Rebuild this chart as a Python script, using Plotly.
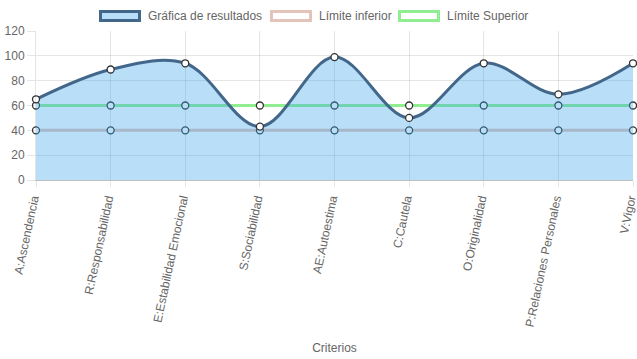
import plotly.graph_objects as go

categorias = ["A:Ascendencia", "R:Responsabilidad", "E:Estabilidad Emocional",
              "S:Sociabilidad", "AE:Autoestima", "C:Cautela", "O:Originalidad",
              "P:Relaciones Personales", "V:Vigor"]
resultados = [65, 89, 94, 43, 99, 50, 94, 69, 94]
limite_inferior = [40, 40, 40, 40, 40, 40, 40, 40, 40]
limite_superior = [60, 60, 60, 60, 60, 60, 60, 60, 60]
y_ticks = [0, 20, 40, 60, 80, 100, 120]

FONT = "Arial, 'Liberation Sans', Helvetica, sans-serif"
C_RES_LINE = "#42678a"
C_RES_FILL = "rgba(54,162,235,0.35)"
C_INF = "rgb(228,196,184)"
C_SUP = "rgb(144,238,144)"

marker = dict(size=7, color="white", line=dict(color="#333", width=1.3))

W, H = 637, 359
L, R, T, B = 36, 4, 31, 179
PW, PH = W - L - R, H - T - B

fig = go.Figure()
fig.add_trace(go.Scatter(
    x=categorias, y=limite_superior, name="Límite Superior", mode="lines+markers",
    line=dict(color=C_SUP, width=3), marker=marker, cliponaxis=False))
fig.add_trace(go.Scatter(
    x=categorias, y=limite_inferior, name="Límite inferior", mode="lines+markers",
    line=dict(color=C_INF, width=3), marker=marker, cliponaxis=False))
fig.add_trace(go.Scatter(
    x=categorias, y=resultados, name="Gráfica de resultados", mode="lines+markers",
    line=dict(color=C_RES_LINE, width=3, shape="spline", smoothing=1.0),
    fill="tozeroy", fillcolor=C_RES_FILL,
    marker=marker, cliponaxis=False))

# Chart.js-style legend (boxes + labels) placed above the plot
def px(fx):
    return (fx - L) / PW

def py(fy):
    return 1 - (fy - T) / PH

legend_items = [
    ("Gráfica de resultados", C_RES_FILL, C_RES_LINE, 99),
    ("Límite inferior", "white", C_INF, 270),
    ("Límite Superior", "white", C_SUP, 398),
]
for label, fillc, linec, x0 in legend_items:
    fig.add_shape(type="rect", xref="paper", yref="paper",
                  x0=px(x0 + 1.5), x1=px(x0 + 40.5), y0=py(11.5), y1=py(20.5),
                  fillcolor=fillc, line=dict(color=linec, width=3), layer="above")
    fig.add_annotation(text=label, xref="paper", yref="paper",
                       x=px(x0 + 47), y=py(16), xanchor="left", yanchor="middle",
                       showarrow=False, font=dict(size=12, color="#666", family=FONT))

fig.update_layout(
    width=W, height=H,
    margin=dict(l=L, r=R, t=T, b=B, autoexpand=False),
    paper_bgcolor="white", plot_bgcolor="white",
    font=dict(family=FONT, size=12, color="#666"),
    showlegend=False,
    xaxis=dict(
        type="category", range=[0, len(categorias) - 1], automargin=False,
        showgrid=True, gridcolor="rgba(0,0,0,0.1)", gridwidth=1,
        tickangle=-78, ticks="outside", ticklen=6, tickcolor="rgba(0,0,0,0.1)",
        ticklabelshift=-3,
        showline=True, linecolor="rgba(0,0,0,0.25)", linewidth=1,
        tickfont=dict(size=12, color="#666"),
        title=dict(text="Criterios", font=dict(size=12, color="#666"), standoff=16),
    ),
    yaxis=dict(
        range=[0, 120], tickvals=y_ticks, automargin=False,
        showgrid=True, gridcolor="rgba(0,0,0,0.1)", gridwidth=1,
        zeroline=False, ticks="outside", ticklen=8, tickcolor="rgba(0,0,0,0.1)",
        showline=True, linecolor="rgba(0,0,0,0.1)",
        tickfont=dict(size=12, color="#666"),
    ),
)
fig.write_html("out.html", config={"displayModeBar": False},
               post_script="document.body.style.margin='0';")
